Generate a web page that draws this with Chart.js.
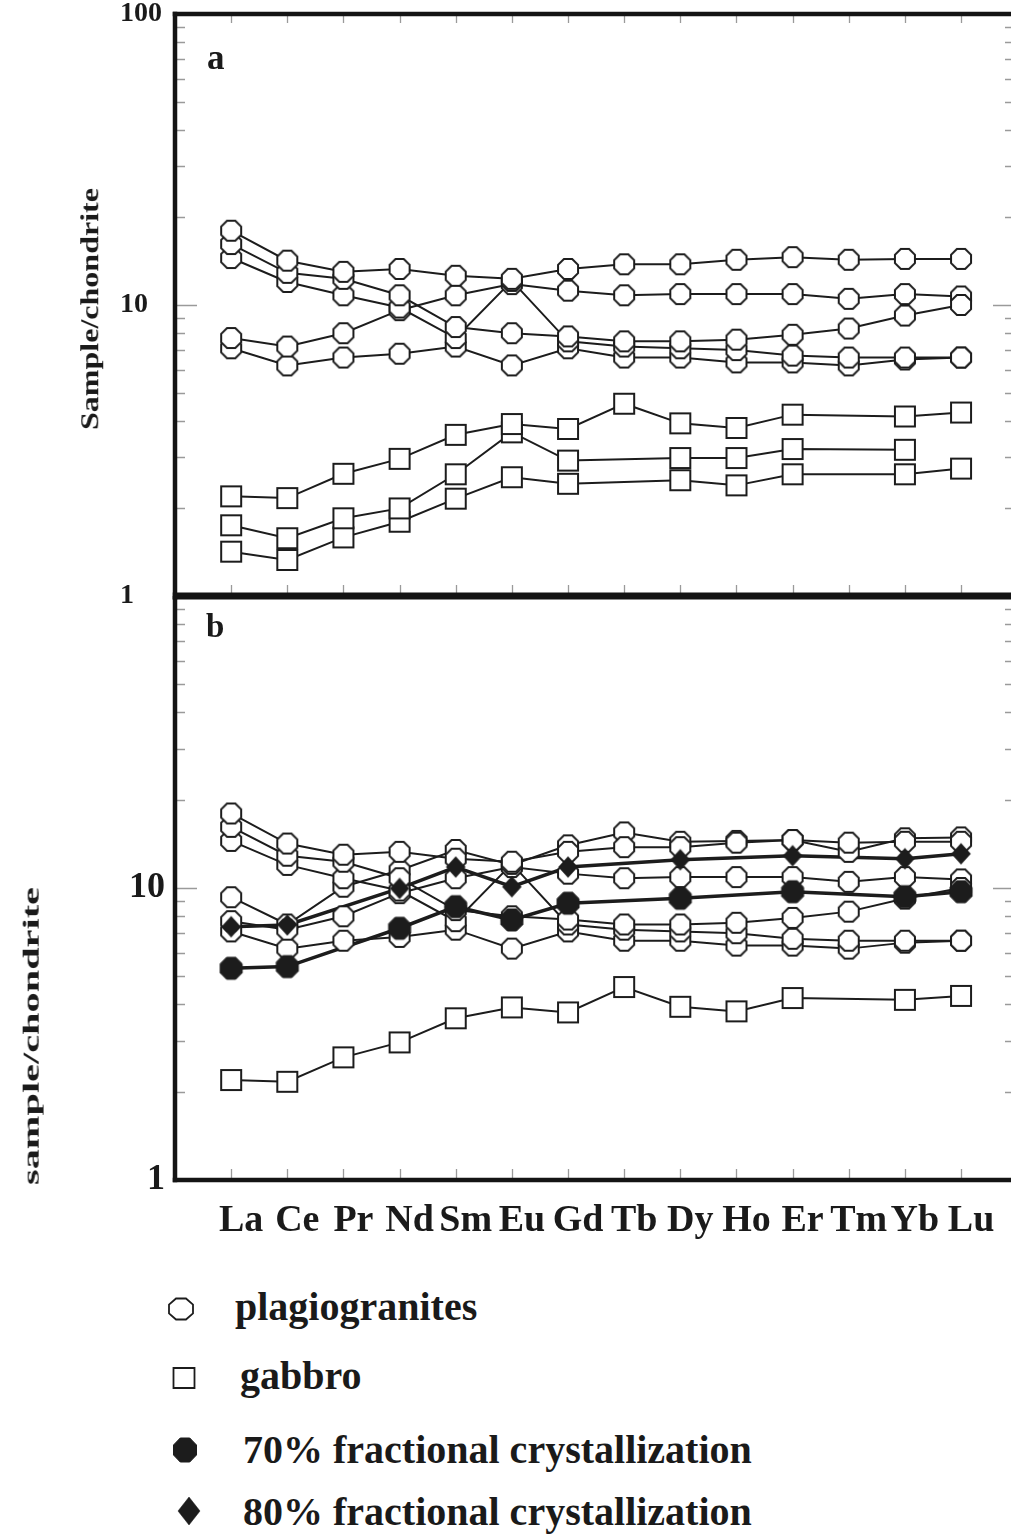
<!DOCTYPE html>
<html>
<head>
<meta charset="utf-8">
<script src="https://cdn.jsdelivr.net/npm/chart.js@4.4.1/dist/chart.umd.min.js"></script>
<style>
html,body{margin:0;padding:0;background:#fff;overflow:hidden;width:1011px;height:1539px}
#wrap{position:relative;width:1011px;height:1539px;overflow:hidden}
.t{position:absolute;font-family:'Liberation Serif','Times New Roman',serif;font-weight:bold;color:#1a1a1a;white-space:nowrap}
canvas{display:block}
</style>
</head>
<body>
<div id="wrap">
  <div style="position:absolute;left:0;top:0"><canvas id="ca" width="1011" height="615"></canvas></div>
  <div style="position:absolute;left:0;top:592px"><canvas id="cb" width="1011" height="668"></canvas></div>
</div>
<script>
// ---------------- data ----------------
const CATS = ['La','Ce','Pr','Nd','Sm','Eu','Gd','Tb','Dy','Ho','Er','Tm','Yb','Lu'];

const PLAG_1 = [18.0, 14.2, 13.0, 13.3, 12.6, 12.3, 13.3, 13.8, 13.8, 14.3, 14.6, 14.3, 14.4, 14.4];
const PLAG_2 = [16.2, 12.9, 12.3, 10.8, 8.4, 8.0, 7.8, 7.5, 7.5, 7.6, 7.9, 8.3, 9.2, 10.0];
const PLAG_3 = [14.5, 12.0, 10.8, 9.8, 7.7, 12.1, 7.5, 7.2, 7.1, 7.0, 6.7, 6.6, 6.6, 6.6];
const PLAG_4 = [7.7, 7.2, 8.0, 9.6, 10.8, 11.8, 11.2, 10.8, 10.9, 10.9, 10.9, 10.5, 10.9, 10.7];
const PLAG_5 = [7.1, 6.2, 6.6, 6.8, 7.2, 6.2, 7.1, 6.6, 6.6, 6.35, 6.35, 6.2, 6.5, 6.6];
const PLAG_6 = [9.3, 7.5, 10.1, 11.5, 13.5, 12.0, 14.0, 15.5, 14.4, 14.5, 14.6, 13.3, 14.8, 14.9];

const GABBRO_1 = [2.2, 2.17, 2.63, 2.96, 3.58, 3.9, 3.75, 4.58, 3.92, 3.78, 4.2, null, 4.14, 4.27];
const GABBRO_2 = [1.75, 1.58, 1.85, 2.0, 2.62, 3.65, 2.92, null, 2.98, 2.98, 3.2, null, 3.18, null];
const GABBRO_3 = [1.42, 1.33, 1.59, 1.80, 2.16, 2.56, 2.43, null, 2.50, 2.40, 2.62, null, 2.62, 2.74];

const FC_70 = [5.31, 5.38, null, 7.28, 8.63, 7.77, 8.87, null, 9.22, null, 9.71, null, 9.34, 9.71];
const FC_80 = [7.37, 7.47, null, 9.97, 11.8, 10.1, 11.8, null, 12.5, null, 12.9, null, 12.6, 13.1];

const Y_LABELS_A = [1, 10, 100];
const Y_LABELS_B = [1, 10];
const MINOR_TICKS = [2,3,4,5,6,7,8,9,20,30,40,50,60,70,80,90];
const MAJOR_TICKS = [10];
const LEGEND = ['plagiogranites', 'gabbro', '70% fractional crystallization', '80% fractional crystallization'];

// ---------------- styling helpers ----------------
const INK = '#1c1c1c';
const FONT = "'Liberation Serif','Times New Roman',serif";

function marker(kind, w, h, fill, stroke, lw) {
  const pad = Math.ceil(lw) + 1;
  const c = document.createElement('canvas');
  let cw = Math.ceil(w + 2 * pad), ch = Math.ceil(h + 2 * pad);
  if (cw % 2) cw++; if (ch % 2) ch++;
  c.width = cw; c.height = ch;
  const g = c.getContext('2d');
  const cx = cw / 2, cy = ch / 2, a = w / 2, b = h / 2;
  g.beginPath();
  if (kind === 'oct') {
    const k = Math.tan(Math.PI / 8), ax = a * k, by = b * k;
    g.moveTo(cx - ax, cy - b); g.lineTo(cx + ax, cy - b); g.lineTo(cx + a, cy - by);
    g.lineTo(cx + a, cy + by); g.lineTo(cx + ax, cy + b); g.lineTo(cx - ax, cy + b);
    g.lineTo(cx - a, cy + by); g.lineTo(cx - a, cy - by); g.closePath();
  } else if (kind === 'sq') {
    g.rect(cx - a, cy - b, w, h);
  } else {
    g.moveTo(cx, cy - b); g.lineTo(cx + a, cy); g.lineTo(cx, cy + b); g.lineTo(cx - a, cy); g.closePath();
  }
  g.fillStyle = fill; g.fill();
  if (lw > 0) { g.lineWidth = lw; g.strokeStyle = stroke; g.lineJoin = 'miter'; g.stroke(); }
  return c;
}

const M_OCT = marker('oct', 20, 20, '#ffffff', INK, 2);
const M_SQ = marker('sq', 20, 20, '#ffffff', INK, 2);
const M_FOCT = marker('oct', 22, 22, INK, INK, 1);
const M_DIA = marker('dia', 19, 21, INK, INK, 0.5);

const pts = vals => vals.map((v, i) => ({ x: i, y: v }));
const lineDs = (vals, w) => ({ data: pts(vals), borderColor: INK, borderWidth: w, pointRadius: 0,
  spanGaps: true, tension: 0, fill: false, order: 2 });
const pointDs = (vals, style) => ({ data: pts(vals), showLine: false, pointStyle: style,
  pointRadius: 10, order: 1 });

// frame + inward tick marks
const framePlugin = {
  id: 'frame',
  afterDatasetsDraw(chart, args, o) {
    const { ctx, chartArea: a, scales: { x, y } } = chart;
    ctx.save();
    ctx.strokeStyle = '#9a9a9a'; ctx.lineWidth = 1.3;
    ctx.beginPath();
    MINOR_TICKS.concat(MAJOR_TICKS).forEach(v => {
      const py = Math.round(y.getPixelForValue(v)) + 0.5;
      const len = MAJOR_TICKS.includes(v) ? 22 : 10;
      ctx.moveTo(a.left, py); ctx.lineTo(a.left + len, py);
      ctx.moveTo(a.right + 4, py); ctx.lineTo(a.right + 4 - len, py);
    });
    CATS.forEach((c, i) => {
      const px = Math.round(x.getPixelForValue(i)) + 0.5;
      ctx.moveTo(px, a.bottom); ctx.lineTo(px, a.bottom - 11);
      if (o.topTicks) { ctx.moveTo(px, a.top); ctx.lineTo(px, a.top + 9); }
    });
    ctx.stroke();
    ctx.strokeStyle = '#141414'; ctx.lineCap = 'butt';
    ctx.lineWidth = 4.5;
    ctx.beginPath();
    ctx.moveTo(a.left, a.top - (o.topLine ? o.topLine / 2 : 0));
    ctx.lineTo(a.left, a.bottom + o.bottomLine / 2);
    ctx.stroke();
    if (o.topLine) {
      ctx.lineWidth = o.topLine; ctx.beginPath();
      ctx.moveTo(a.left - 2.25, a.top); ctx.lineTo(a.right, a.top); ctx.stroke();
    }
    ctx.lineWidth = o.bottomLine; ctx.beginPath();
    ctx.moveTo(a.left - 2.25, a.bottom); ctx.lineTo(a.right, a.bottom); ctx.stroke();
    ctx.restore();
  }
};

const X_MIN = -1, X_MAX = 13.89;
const fitY = w => s => { s.width = w; s.paddingTop = 0; s.paddingBottom = 0; };

// ---------------- panel a ----------------
const plagA = [PLAG_1, PLAG_2, PLAG_3, PLAG_4, PLAG_5];
const gabA = [GABBRO_1, GABBRO_2, GABBRO_3];
const dsA = [
  ...plagA.map(v => lineDs(v, 2)), ...gabA.map(v => lineDs(v, 2)),
  ...plagA.map(v => pointDs(v, M_OCT)), ...gabA.map(v => pointDs(v, M_SQ))
];

new Chart(document.getElementById('ca'), {
  type: 'line',
  data: { datasets: dsA },
  options: {
    responsive: false, animation: false, events: [],
    layout: { autoPadding: false, padding: { left: 120, top: 14, right: 0, bottom: 19 } },
    plugins: { legend: { display: false }, tooltip: { enabled: false },
      frame: { topLine: 4.5, bottomLine: 7, topTicks: true } },
    scales: {
      x: { type: 'linear', min: X_MIN, max: X_MAX, display: false },
      y: {
        type: 'logarithmic', min: 1, max: 100, position: 'left',
        afterFit: fitY(55),
        grid: { display: false, drawTicks: false }, border: { display: false },
        ticks: { autoSkip: false, crossAlign: 'far', padding: 0, color: '#1a1a1a',
          font: { family: FONT, weight: 'bold', size: 28 },
          callback: v => Y_LABELS_A.includes(v) ? String(v) : '' }
      }
    }
  },
  plugins: [framePlugin]
});

// ---------------- panel b ----------------
const plagB = [PLAG_1, PLAG_2, PLAG_3, PLAG_4, PLAG_5, PLAG_6];
const dsB = [
  lineDs(FC_80, 3.5), lineDs(FC_70, 3.5),
  ...plagB.map(v => lineDs(v, 2)), lineDs(GABBRO_1, 2),
  pointDs(FC_80, M_DIA), pointDs(FC_70, M_FOCT),
  ...plagB.map(v => pointDs(v, M_OCT)), pointDs(GABBRO_1, M_SQ)
];

new Chart(document.getElementById('cb'), {
  type: 'line',
  data: { datasets: dsB },
  options: {
    responsive: false, animation: false, events: [],
    layout: { autoPadding: false, padding: { left: 0, top: 4, right: 0, bottom: 0 } },
    plugins: { legend: { display: false }, tooltip: { enabled: false },
      frame: { topLine: 0, bottomLine: 4.5, topTicks: false } },
    scales: {
      x: {
        type: 'linear', min: X_MIN, max: X_MAX, position: 'bottom',
        afterFit: s => { s.height = 80; s.paddingLeft = 0; s.paddingRight = 0; },
        grid: { display: false, drawTicks: false }, border: { display: false },
        ticks: { stepSize: 1, autoSkip: false, includeBounds: false, maxRotation: 0, minRotation: 0,
          padding: 18, labelOffset: 10, color: '#1a1a1a',
          font: { family: FONT, weight: 'bold', size: 38 },
          callback: v => (Number.isInteger(v) && v >= 0 && v < CATS.length) ? CATS[v] : '' }
      },
      y: {
        type: 'logarithmic', min: 1, max: 100, position: 'left',
        afterFit: fitY(175),
        grid: { display: false, drawTicks: false }, border: { display: false },
        ticks: { autoSkip: false, crossAlign: 'near', padding: 10, color: '#1a1a1a',
          font: { family: FONT, weight: 'bold', size: 36 },
          callback: v => Y_LABELS_B.includes(v) ? String(v) : '' }
      }
    }
  },
  plugins: [framePlugin]
});

// ---------------- text & legend ----------------
const wrap = document.getElementById('wrap');
function textAt(str, size, left, baseline) {
  const d = document.createElement('div');
  d.className = 't'; d.textContent = str;
  d.style.fontSize = size + 'px'; d.style.lineHeight = size + 'px';
  d.style.left = left + 'px'; d.style.top = (baseline - 0.8375 * size) + 'px';
  wrap.appendChild(d);
  return d;
}
function rotTitle(str, size, cx, cy, len) {
  const d = document.createElement('div');
  d.className = 't'; d.textContent = str;
  d.style.fontSize = size + 'px'; d.style.lineHeight = size + 'px';
  wrap.appendChild(d);
  const w = d.getBoundingClientRect().width;
  d.style.left = (cx - 0.1 * size - w / 2) + 'px';
  d.style.top = (cy - size / 2) + 'px';
  d.style.transformOrigin = '50% 50%';
  d.style.transform = 'rotate(-90deg) scaleX(' + (len / w) + ')';
}
function markerAt(c, cx, cy) {
  c.style.position = 'absolute';
  c.style.left = (cx - c.width / 2) + 'px';
  c.style.top = (cy - c.height / 2) + 'px';
  wrap.appendChild(c);
}

textAt('a', 35, 207, 69);
textAt('b', 33, 206, 638);
rotTitle('Sample/chondrite', 26, 93, 309, 242);
rotTitle('sample/chondrite', 24, 33, 1036, 298);

const legendMarks = [
  [marker('oct', 24, 21, '#ffffff', INK, 1.8), 181, 1309],
  [marker('sq', 21, 20, '#ffffff', INK, 1.8), 183.5, 1378],
  [marker('oct', 23, 24, INK, INK, 1), 185, 1450],
  [marker('dia', 22, 28, INK, INK, 0.5), 188.5, 1511]
];
const legendText = [[235, 1320], [240, 1389], [243, 1463], [243, 1525]];
LEGEND.forEach((lab, i) => {
  markerAt(legendMarks[i][0], legendMarks[i][1], legendMarks[i][2]);
  textAt(lab, 40, legendText[i][0], legendText[i][1]);
});
</script>
</body>
</html>
